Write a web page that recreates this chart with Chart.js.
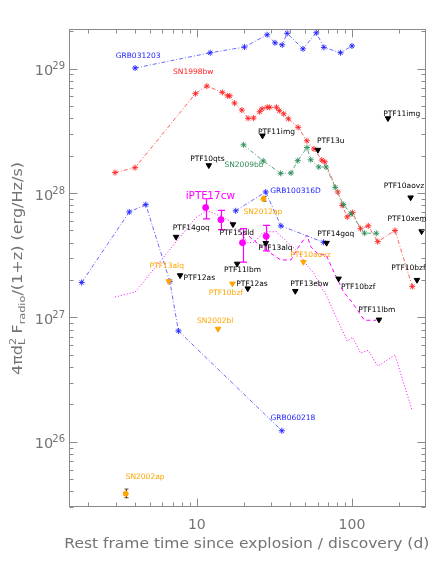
<!DOCTYPE html>
<html><head><meta charset="utf-8">
<script src="https://cdn.jsdelivr.net/npm/chart.js@4"></script>
<style>html,body{margin:0;padding:0;background:#fff}canvas{display:block}</style>
</head><body>
<canvas id="c" width="436" height="564"></canvas>
<script>
// ---------------- DATA ----------------
const grb031203Days = [4.0, 12.2, 20.3, 28.4, 31.9, 35.5, 38.2, 48.3, 58.9, 65.9, 84.4, 100];
const grb031203Lum  = [1.01e29, 1.34e29, 1.49e29, 1.87e29, 1.61e29, 1.55e29, 1.92e29, 1.44e29, 1.94e29, 1.48e29, 1.34e29, 1.52e29];

const sn1998bwDays = [2.97, 4.0, 9.8, 11.6, 14.6, 15.8, 16.3, 17.5, 19.5, 21.4, 23.2, 25.4, 26.3, 28.4, 29.5, 32.6, 34.0, 36.3, 38.9, 45.0, 51.2, 56.9, 63.9, 66.8, 81.0, 86.5, 93.2, 100.9, 113.5, 127.4, 146.6, 189.4, 244.9];
const sn1998bwLum  = [1.46e28, 1.60e28, 6.29e28, 7.23e28, 6.44e28, 6.04e28, 6.04e28, 5.28e28, 4.64e28, 3.98e28, 4.00e28, 4.50e28, 4.75e28, 4.88e28, 4.88e28, 4.89e28, 4.59e28, 4.33e28, 3.95e28, 3.37e28, 2.63e28, 2.26e28, 1.84e28, 1.78e28, 1.02e28, 7.95e27, 6.43e27, 6.96e27, 5.17e27, 5.45e27, 4.07e27, 5.0e27, 1.77e27];

const sn2009bbDays = [20.0, 26.8, 34.7, 40.5, 44.7, 51.3, 54.2, 61.1, 68.0, 78.0, 88.3, 98.6, 120.4, 143.5];
const sn2009bbLum  = [2.44e28, 1.81e28, 1.44e28, 1.45e28, 1.82e28, 2.32e28, 1.85e28, 1.62e28, 1.62e28, 1.11e28, 8.07e27, 6.8e27, 4.76e27, 4.75e27];

const grb100316dDays = [17.8, 27.8, 34.8, 65.6];
const grb100316dLum  = [7.2e27, 1.02e28, 5.45e27, 4.02e27];

const grb060218Days = [1.81, 3.67, 4.69, 6.70, 7.61, 35.3];
const grb060218Lum  = [1.91e27, 7.05e27, 8.07e27, 1.95e27, 7.8e26, 1.23e26];

const iptf17cwDays  = [11.4, 14.3, 19.7, 28.0];
const iptf17cwLum   = [7.64e27, 6.11e27, 3.99e27, 4.49e27];
const iptf17cwLow   = [6.2e27, 5.08e27, 2.79e27, 3.43e27];
const iptf17cwHigh  = [9.0e27, 7.26e27, 5.17e27, 5.5e27];

// model curves (magenta)
const modelDottedDays = [2.97, 4.0, 9.8, 11.6, 14.6, 15.8, 16.3, 17.5, 19.5, 21.4, 23.2, 25.4, 26.3, 28.4, 29.5, 32.6, 34.0, 36.3, 38.9, 45.0, 51.2, 56.9, 63.9, 66.8, 81.0, 86.5, 93.2, 100.9, 113.5, 127.4, 146.6, 189.4, 244.9];
const modelDottedLum  = [1.46e27, 1.60e27, 6.29e27, 7.23e27, 6.44e27, 6.04e27, 6.04e27, 5.28e27, 4.64e27, 3.98e27, 4.00e27, 4.50e27, 4.75e27, 4.88e27, 4.88e27, 4.89e27, 4.59e27, 4.33e27, 3.95e27, 3.37e27, 2.63e27, 2.26e27, 1.70e27, 1.60e27, 9.4e26, 7.9e26, 6.43e26, 6.96e26, 5.17e26, 5.45e26, 4.07e26, 5.0e26, 1.77e26];
const modelDashedDays = [20.0, 26.8, 34.7, 40.5, 44.7, 51.3, 54.2, 61.1, 68.0, 78.0, 88.3, 98.6, 120.4, 143.5];
const modelDashedLum  = [4.9e27, 3.6e27, 2.9e27, 2.9e27, 3.6e27, 4.6e27, 3.7e27, 3.2e27, 3.2e27, 2.2e27, 1.6e27, 1.36e27, 9.5e26, 9.5e26];

// upper limits (black)
const ulNames = ['PTF11img','PTF11img','PTF13u','PTF10qts','PTF10aovz','PTF10xem','PTF10bzf','PTF14goq','PTF10bzf','PTF11lbm','PTF13ebw','PTF12as','PTF12as','PTF14goq','PTF15dld','PTF11lbm','PTF13alq'];
const ulDays  = [170.6, 26.5, 60.3, 11.95, 238.8, 281, 262.4, 68.6, 82, 149.3, 43.1, 21.3, 7.8, 7.35, 17.1, 18.2, 27.8];
const ulLum   = [3.98e28, 2.89e28, 2.22e28, 1.67e28, 9.2e27, 4.92e27, 2.0e27, 3.97e27, 2.05e27, 9.6e26, 1.63e27, 1.71e27, 2.18e27, 4.44e27, 5.6e27, 2.70e27, 3.96e27];

// upper limits (orange)
const ulOrangeNames = ['PTF13alq','PTF10bzf','PTF10aovz','SN2002bl'];
const ulOrangeDays  = [6.6, 16.97, 48.6, 13.7];
const ulOrangeLum   = [1.95e27, 1.87e27, 2.79e27, 8.1e26];

// detections (orange, with error bars)
const orangeNames = ['SN2012ap','SN2002ap'];
const orangeDays  = [26.9, 3.48];
const orangeLum   = [8.98e27, 3.84e25];
const orangeLow   = [8.6e27, 3.56e25];
const orangeHigh  = [9.4e27, 4.18e25];

// axis ticks
const xTickValues = [10, 100];
const xTickLabels = ['10', '100'];
const yTickValues = [1e26, 1e27, 1e28, 1e29];
const yTickExps   = ['26', '27', '28', '29'];

// ---------------- LAYOUT / STYLE ----------------
const X_MIN = 1.5, X_MAX = 300, Y_MIN = 3.0e25, Y_MAX = 2.08e29;
const AXIS = '#8a8a8a', TXT = '#747474';
const BLUE = '#2020ff', BLUE_LINE = '#6a6aff', RED = '#ff2020', RED_LINE = '#ff6060';
const GREEN = '#2e8b57', GREEN_LINE = '#5aa880', MAG = '#ff00ff', ORANGE = '#ffa500';
const FONT = "'DejaVu Sans', sans-serif";
const DASHDOT = [4, 2, 1, 2];

// label offsets (px) for upper-limit names, relative to marker
const ulLabelOffsets = [[-4.7,-4.7],[-4.6,-3.7],[-1,-8.6],[-18.7,-6.4],[-27,-11.7],[-34,-12.4],[-25.7,-12],[-9.3,-9],[2.4,8],[-20.7,-9.7],[-5,-7.5],[-11.5,-4.5],[3.5,2.6],[-3.3,-8.8],[-13.5,8.8],[-13.3,6.5],[-7.5,4.5]];
const ulOrangeLabelOffsets = [[-19.3,-15],[-23.8,9.5],[-13.2,-6.5],[-21,-7.7]];
const orangeLabelOffsets = [[-20,13],[0,-16.3]];
// series name labels: [text, day, lum, colour, size]
const seriesLabels = [
  ['GRB031203', 3.0, 1.25e29, BLUE, 7.5],
  ['SN1998bw', 7.03, 9.41e28, RED, 7.5],
  ['SN2009bb', 15.07, 1.68e28, GREEN, 7.5],
  ['iPTF17cw', 8.47, 9.35e27, MAG, 10.5],
  ['GRB100316D', 29.7, 1.045e28, BLUE, 7.5],
  ['GRB060218', 29.85, 1.556e26, BLUE, 7.5]
];

function pts(xs, ys) { return xs.map((x, i) => ({ x: x, y: ys[i] })); }
function lineSet(label, xs, ys, lineColor, markColor) {
  return { label, data: pts(xs, ys), showLine: true, borderColor: lineColor, borderWidth: 1,
    borderDash: DASHDOT, pointStyle: 'star', pointRadius: 3, pointBorderColor: markColor,
    pointBackgroundColor: markColor, pointBorderWidth: 0.9, tension: 0 };
}
function markSet(label, xs, ys, color, style, radius, rot) {
  return { label, data: pts(xs, ys), showLine: false, pointStyle: style, pointRadius: radius,
    pointRotation: rot || 0, pointBackgroundColor: color, pointBorderColor: color, pointBorderWidth: 1 };
}

const datasets = [
  markSet('iPTF17cw', iptf17cwDays, iptf17cwLum, MAG, 'circle', 3),
  markSet('UL', ulDays, ulLum, '#000', 'triangle', 3.2, 180),
  markSet('ULo', ulOrangeDays, ulOrangeLum, ORANGE, 'triangle', 3.2, 180),
  markSet('det', orangeDays, orangeLum, ORANGE, 'circle', 2.5),
  lineSet('GRB031203', grb031203Days, grb031203Lum, BLUE_LINE, BLUE),
  lineSet('GRB100316D', grb100316dDays, grb100316dLum, BLUE_LINE, BLUE),
  lineSet('GRB060218', grb060218Days, grb060218Lum, BLUE_LINE, BLUE),
  lineSet('SN2009bb', sn2009bbDays, sn2009bbLum, GREEN_LINE, GREEN),
  lineSet('SN1998bw', sn1998bwDays, sn1998bwLum, RED_LINE, RED),
  { label: 'model1', data: pts(modelDottedDays, modelDottedLum), showLine: true, borderColor: MAG, borderWidth: 1, borderDash: [1, 2], pointRadius: 0 },
  { label: 'model2', data: pts(modelDashedDays, modelDashedLum), showLine: true, borderColor: MAG, borderWidth: 1, borderDash: [4, 3], pointRadius: 0 }
];

function drawRich(ctx, segs, base, small, targetLen, supDy, subDy) {
  const widths = segs.map(s => { ctx.font = s.m === 'n' ? base : small; return ctx.measureText(s.t).width; });
  let total = 0;
  segs.forEach((s, i) => { if (!s.hold) total += widths[i]; });
  const k = targetLen / total;
  ctx.save();
  ctx.scale(k, 1);
  let cx = -total / 2;
  segs.forEach((s, i) => {
    ctx.font = s.m === 'n' ? base : small;
    const dy = s.m === 'sup' ? -supDy : (s.m === 'sub' ? subDy : 0);
    ctx.fillText(s.t, cx, dy);
    if (!s.hold) cx += widths[i];
  });
  ctx.restore();
}

const decor = {
  id: 'decor',
  beforeDatasetsDraw(chart) {
    const { ctx, scales: { x, y } } = chart;
    ctx.save();
    ctx.strokeStyle = MAG; ctx.lineWidth = 1.2;
    iptf17cwDays.forEach((d, i) => {
      const px = Math.round(x.getPixelForValue(d)) + 0.5;
      const p1 = y.getPixelForValue(iptf17cwLow[i]), p2 = y.getPixelForValue(iptf17cwHigh[i]);
      ctx.beginPath();
      ctx.moveTo(px, p1); ctx.lineTo(px, p2);
      ctx.moveTo(px - 3.5, p1); ctx.lineTo(px + 3.5, p1);
      ctx.moveTo(px - 3.5, p2); ctx.lineTo(px + 3.5, p2);
      ctx.stroke();
    });
    ctx.strokeStyle = '#5a4020'; ctx.lineWidth = 1;
    orangeDays.forEach((d, i) => {
      const px = Math.round(x.getPixelForValue(d)) + 0.5;
      const p1 = y.getPixelForValue(orangeLow[i]), p2 = y.getPixelForValue(orangeHigh[i]);
      ctx.beginPath();
      ctx.moveTo(px, p1); ctx.lineTo(px, p2);
      ctx.moveTo(px - 2, p1); ctx.lineTo(px + 2, p1);
      ctx.moveTo(px - 2, p2); ctx.lineTo(px + 2, p2);
      ctx.stroke();
    });
    ctx.restore();
  },
  afterDatasetsDraw(chart) {
    const { ctx, chartArea: a, scales: { x, y } } = chart;
    ctx.save();
    const L = Math.round(a.left) + 0.5, R = Math.round(a.right) - 0.5, T = Math.round(a.top) + 0.5, B = Math.round(a.bottom) - 0.5;
    ctx.strokeStyle = AXIS; ctx.lineWidth = 1;
    ctx.strokeRect(L, T, R - L, B - T);
    ctx.beginPath();
    for (let dec = 1; dec <= 100; dec *= 10) {
      for (let m = 1; m <= 9; m++) {
        const v = dec * m;
        if (v < X_MIN || v >= X_MAX) continue;
        const px = Math.round(x.getPixelForValue(v)) + 0.5;
        const len = m === 1 ? 8 : 4;
        ctx.moveTo(px, B); ctx.lineTo(px, B - len);
        ctx.moveTo(px, T); ctx.lineTo(px, T + len);
      }
    }
    for (let dec = 1e25; dec <= 1e29; dec *= 10) {
      for (let m = 1; m <= 9; m++) {
        const v = dec * m;
        if (v < Y_MIN || v > Y_MAX) continue;
        const py = Math.round(y.getPixelForValue(v)) + 0.5;
        const len = m === 1 ? 8 : 4;
        ctx.moveTo(L, py); ctx.lineTo(L + len, py);
        ctx.moveTo(R, py); ctx.lineTo(R - len, py);
      }
    }
    ctx.stroke();

    ctx.fillStyle = TXT;
    ctx.textBaseline = 'alphabetic';
    yTickValues.forEach((v, i) => {
      const py = y.getPixelForValue(v);
      ctx.font = '10px ' + FONT;
      const ws = ctx.measureText(yTickExps[i]).width;
      ctx.textAlign = 'right';
      ctx.fillText(yTickExps[i], a.left - 4, py + 0.5);
      ctx.font = '14.5px ' + FONT;
      ctx.fillText('10', a.left - 4 - ws + 1, py + 6.5);
    });
    ctx.font = '14px ' + FONT;
    ctx.textAlign = 'center';
    xTickValues.forEach((v, i) => {
      const px = x.getPixelForValue(v);
      ctx.fillText(xTickLabels[i], px, a.bottom + 22);
    });

    ctx.save();
    ctx.translate(246.8, 547.5);
    ctx.textAlign = 'left';
    drawRich(ctx, [{ t: 'Rest frame time since explosion / discovery (d)', m: 'n' }], '13.5px ' + FONT, '9.5px ' + FONT, 365, 0, 0);
    ctx.restore();
    ctx.save();
    ctx.translate(21.5, 268.5);
    ctx.rotate(-Math.PI / 2);
    ctx.textAlign = 'left';
    drawRich(ctx, [
      { t: '4\u03c0d', m: 'n' }, { t: '2', m: 'sup', hold: true }, { t: 'L', m: 'sub' },
      { t: ' F', m: 'n' }, { t: 'radio', m: 'sub' }, { t: '/(1+z) (erg/Hz/s)', m: 'n' }
    ], '13.5px ' + FONT, '9.5px ' + FONT, 213, 6, 3.5);
    ctx.restore();

    ctx.textAlign = 'left';
    ctx.textBaseline = 'middle';
    ctx.font = '7.5px ' + FONT;
    ctx.fillStyle = '#000';
    ulNames.forEach((n, i) => {
      const px = x.getPixelForValue(ulDays[i]) + ulLabelOffsets[i][0];
      const py = y.getPixelForValue(ulLum[i]) + ulLabelOffsets[i][1];
      ctx.fillText(n, px, py);
    });
    ctx.fillStyle = ORANGE;
    ulOrangeNames.forEach((n, i) => {
      const px = x.getPixelForValue(ulOrangeDays[i]) + ulOrangeLabelOffsets[i][0];
      const py = y.getPixelForValue(ulOrangeLum[i]) + ulOrangeLabelOffsets[i][1];
      ctx.fillText(n, px, py);
    });
    orangeNames.forEach((n, i) => {
      const px = x.getPixelForValue(orangeDays[i]) + orangeLabelOffsets[i][0];
      const py = y.getPixelForValue(orangeLum[i]) + orangeLabelOffsets[i][1];
      ctx.fillText(n, px, py);
    });
    seriesLabels.forEach(s => {
      ctx.fillStyle = s[3];
      ctx.font = s[4] + 'px ' + FONT;
      ctx.fillText(s[0], x.getPixelForValue(s[1]), y.getPixelForValue(s[2]));
    });
    ctx.restore();
  }
};

new Chart(document.getElementById('c'), {
  type: 'scatter',
  data: { datasets },
  options: {
    responsive: false,
    animation: false,
    events: [],
    layout: { padding: { left: 69, top: 29, right: 10, bottom: 57 } },
    plugins: { legend: { display: false }, tooltip: { enabled: false } },
    scales: {
      x: { type: 'logarithmic', min: X_MIN, max: X_MAX, bounds: 'data', display: false },
      y: { type: 'logarithmic', min: Y_MIN, max: Y_MAX, bounds: 'data', display: false }
    }
  },
  plugins: [decor]
});
</script>
</body></html>
